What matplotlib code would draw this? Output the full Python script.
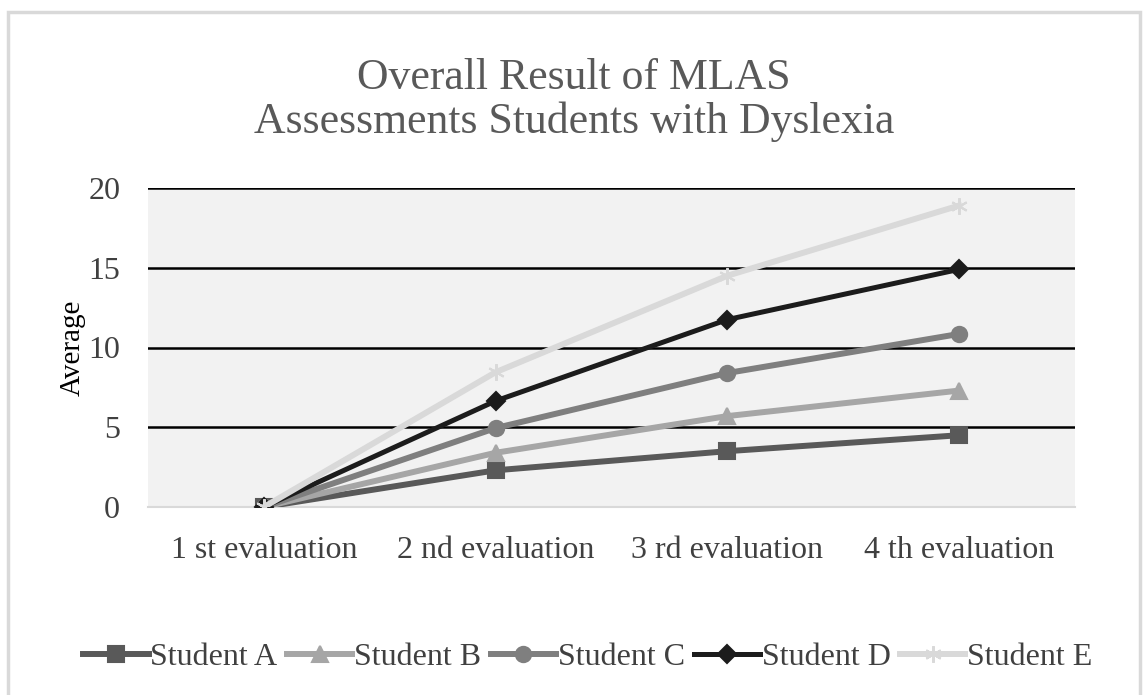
import matplotlib.pyplot as plt
from matplotlib.patches import Rectangle

categories = ["1 st evaluation", "2 nd evaluation", "3 rd evaluation", "4 th evaluation"]
student_a = [0, 2.3, 3.5, 4.5]
student_b = [0, 3.4, 5.7, 7.3]
student_c = [0, 4.95, 8.4, 10.85]
student_d = [0, 6.65, 11.75, 14.9]
student_e = [0, 8.45, 14.5, 18.9]
names = ["Student A", "Student B", "Student C", "Student D", "Student E"]

plt.rcParams['font.family'] = ['Liberation Serif', 'DejaVu Serif']

fig = plt.figure(figsize=(11.48, 6.95), dpi=100)
# outer chart frame
fig.patches.append(Rectangle((8 / 1148, -0.05), 1132 / 1148, 1 - 12 / 695 + 0.05,
                             transform=fig.transFigure, fill=False,
                             edgecolor="#d9d9d9", linewidth=2.5))

ax = fig.add_axes([148 / 1148, 1 - 507 / 695, 927 / 1148, 319 / 695])
ax.set_facecolor("#f2f2f2")

styles = [
    (student_a, "#595959", "s", 11, 4.3),
    (student_b, "#a6a6a6", "^", 11, 4.3),
    (student_c, "#7f7f7f", "o", 11, 4.3),
    (student_d, "#1c1c1c", "D", 9, 3.6),
    (student_e, "#d9d9d9", (6, 2, 0), 12, 4.3),
]
x = list(range(len(categories)))
for (vals, col, mk, ms, lw), name in zip(styles, names):
    ax.plot(x, vals, color=col, marker=mk, markersize=ms, linewidth=lw,
            markeredgecolor=col, markeredgewidth=1.5, label=name, zorder=3)

ax.set_xlim(-0.5, 3.5)
ax.set_ylim(0, 20)
ax.set_yticks([0, 5, 10, 15, 20])
ax.set_xticks(x)
ax.set_xticklabels(categories)
for y in [5, 10, 15, 20]:
    ax.axhline(y, color="black", linewidth=1.8, zorder=1)
for s in ["top", "right", "left"]:
    ax.spines[s].set_visible(False)
ax.spines["bottom"].set_color("#d9d9d9")
ax.spines["bottom"].set_linewidth(1.5)
ax.tick_params(length=0, labelsize=23, colors="#404040", pad=21)
ax.tick_params(axis="y", pad=20)
ax.set_ylabel("Average", fontsize=21, color="black", labelpad=2)

fig.text(0.5, 1 - 100 / 695, "Overall Result of MLAS\nAssessments Students with Dyslexia",
         ha="center", va="center", fontsize=31.5, color="#595959", linespacing=1.08)

fig.legend(loc="center", bbox_to_anchor=(0.512, 1 - 657 / 695), ncol=5, frameon=False,
           fontsize=23, handlelength=2.05, handletextpad=0.05, columnspacing=0.3,
           labelcolor="#404040")

fig.savefig("out.png", dpi=100)
